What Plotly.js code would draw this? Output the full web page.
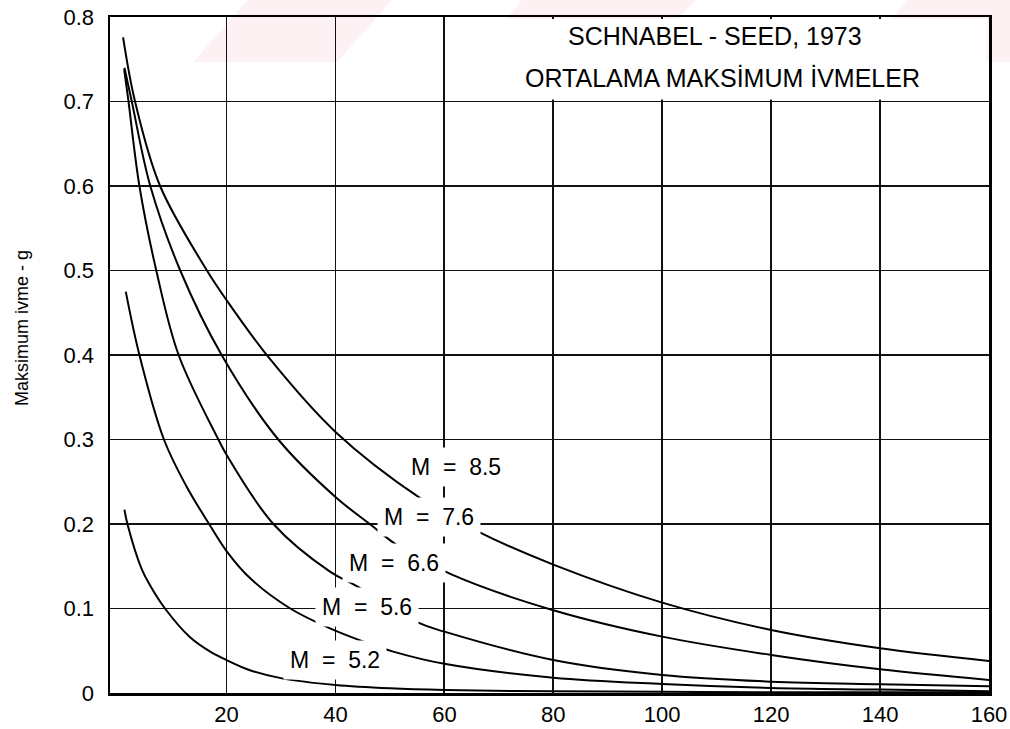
<!DOCTYPE html>
<html><head><meta charset="utf-8">
<script src="https://cdn.plot.ly/plotly-3.0.1.min.js"></script>
<style>html,body{margin:0;padding:0;background:#fff}#chart{width:1010px;height:729px}</style>
</head><body><div id="chart"></div>
<script>
// Axis ticks
const xTicks = [20, 40, 60, 80, 100, 120, 140, 160];
const xTickText = ['20', '40', '60', '80', '100', '120', '140', '160'];
const yTicks = [0, 0.1, 0.2, 0.3, 0.4, 0.5, 0.6, 0.7, 0.8];
const yTickText = ['0', '0.1', '0.2', '0.3', '0.4', '0.5', '0.6', '0.7', '0.8'];

// Curves (distance, max acceleration in g)
const m85X = [1.0, 3.2, 7.8, 16.4, 20, 28.0, 40, 55.7, 66.2, 80, 100, 120, 140, 160];
const m85Y = [0.776, 0.70, 0.60, 0.50, 0.465, 0.395, 0.309, 0.230, 0.191, 0.152, 0.107, 0.0746, 0.053, 0.038];

const m76X = [1.25, 2.6, 6.0, 11.5, 19.1, 29.5, 40, 46.7, 51.3, 61.4, 80, 100, 120, 140, 160];
const m76Y = [0.740, 0.70, 0.60, 0.50, 0.40, 0.30, 0.232, 0.198, 0.175, 0.140, 0.098, 0.0667, 0.045, 0.028, 0.0154];

const m66X = [1.2, 2.0, 4.0, 7.1, 11.2, 18.5, 20, 28.6, 39, 43.9, 55.2, 60, 80, 100, 120, 140, 160];
const m66Y = [0.738, 0.70, 0.60, 0.50, 0.40, 0.30, 0.282, 0.20, 0.1436, 0.1265, 0.0832, 0.0726, 0.039, 0.0213, 0.0134, 0.0103, 0.008];

const m56X = [1.5, 4.0, 8.5, 12.6, 16.8, 20, 24.3, 31.7, 39, 45.7, 50.6, 60, 80, 100, 120, 140, 160];
const m56Y = [0.475, 0.40, 0.30, 0.245, 0.20, 0.168, 0.136, 0.10, 0.0765, 0.0595, 0.049, 0.0345, 0.0181, 0.0107, 0.006, 0.004, 0.002];

const m52X = [1.25, 1.8, 4.4, 6.0, 8.7, 13.3, 17.0, 20, 24.3, 30.4, 40, 50, 60, 80, 100, 120, 140, 160];
const m52Y = [0.217, 0.20, 0.147, 0.127, 0.10, 0.066, 0.049, 0.039, 0.027, 0.017, 0.0095, 0.0055, 0.0035, 0.002, 0.0015, 0.001, 0.001, 0.001];

// Curve labels
const labelText = ['M\u00a0 =\u00a0 8.5', 'M\u00a0 =\u00a0 7.6', 'M\u00a0 =\u00a0 6.6', 'M\u00a0 =\u00a0 5.6', 'M\u00a0 =\u00a0 5.2'];
const labelX = [62.1, 57.2, 50.8, 45.8, 40.0];
const labelY = [0.2675, 0.2077, 0.1533, 0.1018, 0.039];

const titleLines = ['SCHNABEL - SEED, 1973', 'ORTALAMA MAKSİMUM İVMELER'];
const yTitle = 'Maksimum ivme - g';

const FONT = 'Liberation Sans, Arial, Helvetica, sans-serif';

function curve(x, y) {
  return {x: x, y: y, type: 'scatter', mode: 'lines',
    line: {color: '#000', width: 2, shape: 'spline', smoothing: 1.0},
    hoverinfo: 'skip'};
}
const data = [curve(m85X, m85Y), curve(m76X, m76Y), curve(m66X, m66Y), curve(m56X, m56Y), curve(m52X, m52Y)];

const annotations = labelText.map((t, i) => ({
  x: labelX[i], y: labelY[i], xref: 'x', yref: 'y', text: t, showarrow: false,
  font: {family: FONT, size: 23, color: '#000'}, bgcolor: '#fff', borderpad: 6,
  xanchor: 'center', yanchor: 'middle'
}));
annotations.push({x: 0.688, y: 0.972, xref: 'paper', yref: 'paper', text: titleLines[0], showarrow: false,
  font: {family: FONT, size: 25, color: '#000'}, xanchor: 'center', yanchor: 'middle'});
annotations.push({x: 0.697, y: 0.910, xref: 'paper', yref: 'paper', text: titleLines[1], showarrow: false,
  font: {family: FONT, size: 25, color: '#000'}, xanchor: 'center', yanchor: 'middle'});
annotations.push({x: -0.100, y: 0.540, xref: 'paper', yref: 'paper', text: yTitle, showarrow: false, textangle: -90,
  font: {family: FONT, size: 18, color: '#000'}, xanchor: 'center', yanchor: 'middle'});

// px -> paper helpers for the faint watermark bands at the top
const px = v => (v - 110) / 879;
const py = v => (693 - v) / 676;
function band(b0, b1, t0, t1) {
  return {type: 'path', xref: 'paper', yref: 'paper', layer: 'between',
    path: `M ${px(b0)} ${py(62)} L ${px(b1)} ${py(62)} L ${px(t1)} ${py(0)} L ${px(t0)} ${py(0)} Z`,
    fillcolor: 'rgba(240,150,165,0.13)', line: {width: 0}};
}

const shapes = [
  {type: 'rect', xref: 'x', yref: 'y', x0: 60.6, x1: 159.5, y0: 0.7025, y1: 0.7975,
   fillcolor: '#fff', line: {width: 0}, layer: 'between'},
  band(193, 337, 248, 392),
  band(467, 640, 522, 695),
  band(853, 1010, 908, 1065)
];

const layout = {
  width: 1010, height: 729,
  margin: {l: 110, r: 21, t: 17, b: 36, pad: 0},
  paper_bgcolor: '#fff', plot_bgcolor: 'rgba(0,0,0,0)',
  showlegend: false,
  font: {family: FONT, color: '#000'},
  xaxis: {range: [-1.4, 160], tickvals: xTicks, ticktext: xTickText, tickmode: 'array',
    showgrid: true, gridcolor: '#111', gridwidth: 1.8, zeroline: false,
    showline: true, linecolor: '#000', linewidth: 2.5, mirror: true, ticks: '',
    tickfont: {family: FONT, size: 22, color: '#000'}, ticklabelstandoff: 0, fixedrange: true},
  yaxis: {range: [0, 0.8], tickvals: yTicks, ticktext: yTickText, tickmode: 'array',
    showgrid: true, gridcolor: '#111', gridwidth: 1.8, zeroline: false,
    showline: true, linecolor: '#000', linewidth: 2.5, mirror: true, ticks: '',
    tickfont: {family: FONT, size: 22, color: '#000'}, ticklabelstandoff: 9, fixedrange: true},
  annotations: annotations,
  shapes: shapes
};

Plotly.newPlot('chart', data, layout, {displayModeBar: false, staticPlot: true});
</script>
</body></html>
